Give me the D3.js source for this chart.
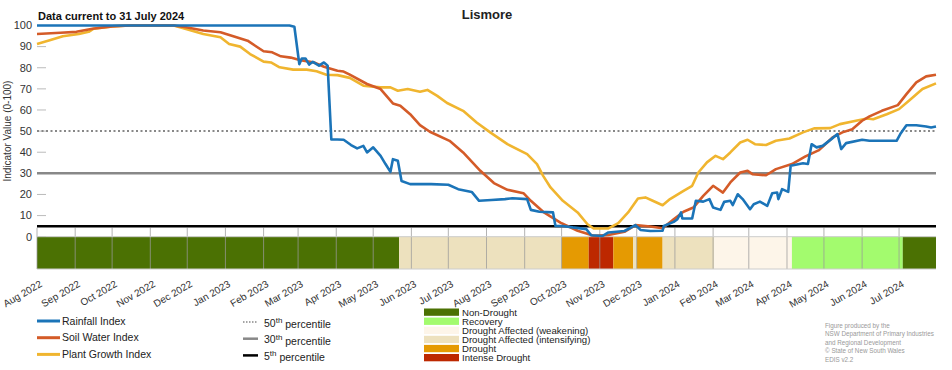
<!DOCTYPE html>
<html>
<head>
<meta charset="utf-8">
<script src="https://cdn.jsdelivr.net/npm/d3@7"></script>
<style>
  body { margin: 0; background: #fff; }
  svg { font-family: "Liberation Sans", Arial, sans-serif; }
</style>
</head>
<body>
<svg id="chart" width="952" height="370"></svg>
<script>
var rainfallIndex = [
  ["2022-08-01", 100], ["2023-02-22", 100], ["2023-02-26", 99.4], ["2023-03-02", 81.7],
  ["2023-03-04", 84.4], ["2023-03-07", 84.4], ["2023-03-10", 81.5], ["2023-03-13", 82.8],
  ["2023-03-18", 81], ["2023-03-22", 82.5], ["2023-03-25", 81], ["2023-03-28", 46],
  ["2023-04-02", 46], ["2023-04-07", 45.9], ["2023-04-13", 43.4], ["2023-04-18", 41.8],
  ["2023-04-23", 43], ["2023-04-26", 39.9], ["2023-05-01", 42.3], ["2023-05-07", 38.3],
  ["2023-05-11", 34.4], ["2023-05-15", 30.7], ["2023-05-17", 36.7], ["2023-05-21", 36],
  ["2023-05-24", 26.4], ["2023-05-31", 24.9], ["2023-06-17", 24.9], ["2023-07-01", 24.6],
  ["2023-07-09", 22.5], ["2023-07-20", 21.2], ["2023-07-26", 17], ["2023-08-05", 17.4],
  ["2023-08-16", 17.8], ["2023-08-22", 18.2], ["2023-09-03", 17.8], ["2023-09-06", 12.7],
  ["2023-09-13", 11.8], ["2023-09-24", 11.5], ["2023-09-26", 5.1], ["2023-10-02", 5.1],
  ["2023-10-10", 4.4], ["2023-10-21", 3.6], ["2023-10-25", 0.7], ["2023-11-03", 0.3],
  ["2023-11-08", 2], ["2023-11-21", 2.7], ["2023-11-30", 5.5], ["2023-12-04", 3.2],
  ["2023-12-12", 2.7], ["2023-12-22", 2.8], ["2023-12-23", 5.1], ["2023-12-31", 7],
  ["2024-01-03", 8.3], ["2024-01-06", 11.5], ["2024-01-07", 8.6], ["2024-01-15", 8.6],
  ["2024-01-18", 17], ["2024-01-24", 16.6], ["2024-01-29", 17.8], ["2024-02-01", 13.8],
  ["2024-02-07", 12.7], ["2024-02-10", 16.5], ["2024-02-15", 17], ["2024-02-17", 15],
  ["2024-02-21", 20.1], ["2024-02-25", 17.8], ["2024-03-02", 13], ["2024-03-05", 15.4],
  ["2024-03-10", 16.6], ["2024-03-16", 14.6], ["2024-03-20", 20.6], ["2024-03-24", 20.9],
  ["2024-03-25", 17.8], ["2024-03-28", 22.5], ["2024-04-02", 21.2], ["2024-04-04", 33.6],
  ["2024-04-14", 34.8], ["2024-04-18", 34.4], ["2024-04-21", 43.8], ["2024-04-25", 42.3],
  ["2024-04-30", 43], ["2024-05-07", 46.2], ["2024-05-12", 48.6], ["2024-05-15", 41.5],
  ["2024-05-19", 44.3], ["2024-06-01", 45.9], ["2024-06-07", 45.4], ["2024-06-29", 45.4],
  ["2024-07-02", 48.6], ["2024-07-07", 52.8], ["2024-07-15", 52.8], ["2024-07-23", 52.2],
  ["2024-07-27", 51.7], ["2024-07-31", 52.2]
];

var soilWaterIndex = [
  ["2022-08-01", 96], ["2022-08-20", 96.6], ["2022-09-02", 97], ["2022-09-15", 98.5],
  ["2022-10-01", 99.6], ["2022-10-15", 100], ["2022-11-20", 100], ["2022-11-30", 99.2],
  ["2022-12-14", 97.6], ["2022-12-28", 96.8], ["2023-01-10", 94.4], ["2023-01-19", 92.8],
  ["2023-02-01", 87.8], ["2023-02-08", 87.3], ["2023-02-15", 85.4], ["2023-02-23", 84.8],
  ["2023-03-03", 83.6], ["2023-03-14", 82.5], ["2023-03-22", 80.5], ["2023-04-02", 78.6],
  ["2023-04-07", 78.2], ["2023-04-12", 76.7], ["2023-04-26", 72.3], ["2023-05-07", 69.9],
  ["2023-05-17", 63.1], ["2023-05-23", 62], ["2023-05-31", 58], ["2023-06-08", 52.8],
  ["2023-06-16", 49.7], ["2023-07-02", 45.4], ["2023-07-13", 39.9], ["2023-07-27", 31.2],
  ["2023-08-07", 25.4], ["2023-08-18", 22.2], ["2023-08-31", 20.6], ["2023-09-06", 17],
  ["2023-09-16", 11.8], ["2023-09-30", 6.7], ["2023-10-14", 2.8], ["2023-10-27", 0.4],
  ["2023-11-08", 0.8], ["2023-11-21", 2.3], ["2023-11-30", 5.5], ["2023-12-12", 4.8],
  ["2023-12-22", 4], ["2023-12-31", 8.3], ["2024-01-08", 11.8], ["2024-01-16", 13.8],
  ["2024-01-24", 19.3], ["2024-02-01", 24.1], ["2024-02-09", 20.9], ["2024-02-15", 25.7],
  ["2024-02-23", 30.4], ["2024-02-29", 31.2], ["2024-03-04", 29.6], ["2024-03-15", 29.1],
  ["2024-03-23", 32], ["2024-04-05", 34.4], ["2024-04-16", 38], ["2024-04-27", 41],
  ["2024-05-08", 47], ["2024-05-16", 49.4], ["2024-05-24", 50.9], ["2024-06-01", 54.9],
  ["2024-06-07", 57], ["2024-06-17", 59.6], ["2024-06-30", 62.3], ["2024-07-07", 67.5],
  ["2024-07-15", 73.1], ["2024-07-23", 75.9], ["2024-07-31", 76.7]
];

var plantGrowthIndex = [
  ["2022-08-01", 91.2], ["2022-08-12", 93.1], ["2022-08-22", 94.9], ["2022-09-04", 96],
  ["2022-09-12", 97], ["2022-09-16", 98.5], ["2022-10-01", 99.6], ["2022-10-15", 100],
  ["2022-11-20", 100], ["2022-11-30", 98.3], ["2022-12-14", 96], ["2022-12-28", 94.4],
  ["2023-01-04", 91.2], ["2023-01-13", 90], ["2023-01-21", 86.5], ["2023-02-01", 82.9],
  ["2023-02-07", 82.5], ["2023-02-14", 80.2], ["2023-02-25", 79.1], ["2023-03-08", 79.1],
  ["2023-03-16", 78.3], ["2023-03-24", 76.7], ["2023-04-02", 76.5], ["2023-04-12", 75.2],
  ["2023-04-23", 71.5], ["2023-05-07", 70.7], ["2023-05-15", 70.7], ["2023-05-21", 69.1],
  ["2023-05-29", 69.9], ["2023-06-08", 68.6], ["2023-06-14", 69.5], ["2023-06-22", 66.7],
  ["2023-06-30", 63.3], ["2023-07-13", 59.6], ["2023-07-24", 54.1], ["2023-08-04", 49.4],
  ["2023-08-18", 43.8], ["2023-09-03", 39.1], ["2023-09-11", 34.4], ["2023-09-16", 28.8],
  ["2023-09-22", 23.3], ["2023-10-02", 17], ["2023-10-14", 11.5], ["2023-10-22", 5.9],
  ["2023-10-27", 3.9], ["2023-11-08", 3.9], ["2023-11-16", 6.4], ["2023-11-24", 11.5],
  ["2023-12-02", 18.1], ["2023-12-08", 18.6], ["2023-12-14", 17], ["2023-12-22", 14.9],
  ["2023-12-28", 17.8], ["2024-01-08", 21.7], ["2024-01-15", 24.1], ["2024-01-20", 30.4],
  ["2024-01-27", 35.2], ["2024-02-03", 38.3], ["2024-02-09", 36.7], ["2024-02-15", 39.9],
  ["2024-02-23", 44.6], ["2024-02-29", 45.9], ["2024-03-06", 43.8], ["2024-03-15", 43.4],
  ["2024-03-23", 45.4], ["2024-04-03", 46.5], ["2024-04-14", 49.4], ["2024-04-23", 51.3],
  ["2024-05-06", 51.4], ["2024-05-14", 53.3], ["2024-05-27", 54.9], ["2024-06-05", 56],
  ["2024-06-10", 55.6], ["2024-06-21", 58], ["2024-07-01", 60.4], ["2024-07-09", 64.4],
  ["2024-07-20", 69.9], ["2024-07-31", 72.6]
];

// drought category band: each state runs from its start to the next start
var droughtStarts = ["2022-08-01", "2023-05-22", "2023-10-01", "2023-10-23", "2023-11-12",
  "2023-11-28", "2023-12-01", "2023-12-22", "2024-02-02", "2024-04-05", "2024-07-04"];
var droughtStates = ["Non-Drought", "Drought Affected (intensifying)", "Drought", "Intense Drought", "Drought",
  "Drought Affected (intensifying)", "Drought", "Drought Affected (intensifying)",
  "Drought Affected (weakening)", "Recovery", "Non-Drought"];
var droughtEnd = "2024-07-31";

var categories = ["Non-Drought", "Recovery", "Drought Affected (weakening)",
  "Drought Affected (intensifying)", "Drought", "Intense Drought"];
var percentiles = [50, 30, 5];
var yTicks = [0, 10, 20, 30, 40, 50, 60, 70, 80, 90, 100];

var COLORS = {
  "Non-Drought": "#4b7103",
  "Recovery": "#a3fb6e",
  "Drought Affected (weakening)": "#fdf5e9",
  "Drought Affected (intensifying)": "#ede1be",
  "Drought": "#e59a02",
  "Intense Drought": "#bd2800"
};

var parse = d3.timeParse("%Y-%m-%d");
var svg = d3.select("#chart");

var x = d3.scaleTime()
    .domain([parse("2022-08-01"), parse(droughtEnd)])
    .range([37, 936]);
var y = d3.scaleLinear().domain([0, 100]).range([236.7, 25.5]);
var BAND_LOW = -15.3;

svg.append("text")
    .attr("x", 487).attr("y", 19)
    .attr("text-anchor", "middle")
    .style("font-size", "13px").style("font-weight", "bold").style("fill", "#222")
    .text("Lismore");

svg.append("text")
    .attr("x", 38).attr("y", 20)
    .style("font-size", "11px").style("font-weight", "bold").style("fill", "#111")
    .text("Data current to 31 July 2024");

svg.append("text")
    .attr("transform", "translate(11," + y(50) + ") rotate(-90)")
    .attr("text-anchor", "middle")
    .style("font-size", "10px").style("fill", "#333")
    .text("Indicator Value (0-100)");

// y ticks
var yAxis = svg.append("g");
yAxis.selectAll("line").data(yTicks.concat([BAND_LOW / 2])).enter()
    .append("line")
    .attr("x1", x.range()[0]).attr("x2", x.range()[0] + 9)
    .attr("y1", function(d) { return y(d); })
    .attr("y2", function(d) { return y(d); })
    .style("stroke", "#bbb").style("stroke-width", 1);
yAxis.selectAll("text").data(yTicks).enter()
    .append("text")
    .attr("x", 32)
    .attr("y", function(d) { return y(d); })
    .attr("dy", "0.35em")
    .attr("text-anchor", "end")
    .style("font-size", "11px").style("fill", "#333")
    .text(function(d) { return d; });

// drought band
var bands = droughtStarts.map(function(s, i) {
  return { start: parse(s), end: parse(i + 1 < droughtStarts.length ? droughtStarts[i + 1] : droughtEnd), state: droughtStates[i] };
});
svg.append("g").selectAll("rect").data(bands).enter()
    .append("rect")
    .attr("x", function(d) { return x(d.start); })
    .attr("width", function(d) { return x(d.end) - x(d.start); })
    .attr("y", y(0))
    .attr("height", y(BAND_LOW) - y(0))
    .style("fill", function(d) { return COLORS[d.state]; });

var months = d3.timeMonth.range(parse("2022-08-01"), parse("2024-08-01"));

svg.append("g").selectAll("line").data(months).enter()
    .append("line")
    .attr("x1", function(d) { return x(d); })
    .attr("x2", function(d) { return x(d); })
    .attr("y1", y(4.2)).attr("y2", y(BAND_LOW))
    .style("stroke", "#999").style("stroke-opacity", 0.75).style("stroke-width", 1);

svg.append("line")
    .attr("x1", x.range()[0]).attr("x2", x.range()[1])
    .attr("y1", y(0)).attr("y2", y(0))
    .style("stroke", "#ccc").style("stroke-width", 1);
svg.append("line")
    .attr("x1", x.range()[0]).attr("x2", x.range()[1])
    .attr("y1", y(BAND_LOW)).attr("y2", y(BAND_LOW))
    .style("stroke", "#ccc").style("stroke-width", 1);

svg.append("g").selectAll("text").data(months).enter()
    .append("text")
    .attr("transform", function(d) { return "translate(" + (x(d) + 4) + "," + (y(BAND_LOW) + 14) + ") rotate(-30)"; })
    .attr("text-anchor", "end")
    .attr("dy", "0.35em")
    .style("font-size", "10px").style("fill", "#333")
    .text(d3.timeFormat("%b %Y"));

// percentile lines
var pctStyle = {
  50: { color: "#888", width: 2, dash: "2,2.5" },
  30: { color: "#888", width: 2.5, dash: null },
  5: { color: "#000", width: 2.5, dash: null }
};
svg.append("g").selectAll("line").data(percentiles).enter()
    .append("line")
    .attr("x1", x.range()[0]).attr("x2", x.range()[1])
    .attr("y1", function(d) { return y(d); })
    .attr("y2", function(d) { return y(d); })
    .style("stroke", function(d) { return pctStyle[d].color; })
    .style("stroke-width", function(d) { return pctStyle[d].width; })
    .style("stroke-dasharray", function(d) { return pctStyle[d].dash; });

// index lines
var series = [
  { name: "Plant Growth Index", data: plantGrowthIndex, color: "#f0b52f" },
  { name: "Soil Water Index", data: soilWaterIndex, color: "#d45b28" },
  { name: "Rainfall Index", data: rainfallIndex, color: "#1b74b8" }
];
var line = d3.line()
    .x(function(d) { return x(parse(d[0])); })
    .y(function(d) { return y(d[1]); });

svg.append("g").selectAll("path").data(series).enter()
    .append("path")
    .attr("d", function(d) { return line(d.data); })
    .style("fill", "none")
    .style("stroke", function(d) { return d.color; })
    .style("stroke-width", 2.6)
    .style("stroke-linejoin", "round");

// legend: indices
var legendSeries = series.slice().reverse();
var lg = svg.append("g");
lg.selectAll("line").data(legendSeries).enter()
    .append("line")
    .attr("x1", 37).attr("x2", 60)
    .attr("y1", function(d, i) { return 321 + i * 16.7; })
    .attr("y2", function(d, i) { return 321 + i * 16.7; })
    .style("stroke", function(d) { return d.color; })
    .style("stroke-width", 3);
lg.selectAll("text").data(legendSeries).enter()
    .append("text")
    .attr("x", 62)
    .attr("y", function(d, i) { return 321 + i * 16.7; })
    .attr("dy", "0.35em")
    .style("font-size", "10.5px").style("fill", "#222")
    .text(function(d) { return d.name; });

// legend: percentiles
var lp = svg.append("g");
lp.selectAll("line").data(percentiles).enter()
    .append("line")
    .attr("x1", 243).attr("x2", 258)
    .attr("y1", function(d, i) { return 322 + i * 16.7; })
    .attr("y2", function(d, i) { return 322 + i * 16.7; })
    .style("stroke", function(d) { return pctStyle[d].color; })
    .style("stroke-width", function(d) { return d == 50 ? 1.5 : 2.5; })
    .style("stroke-dasharray", function(d) { return d == 50 ? "1.5,1.5" : null; });
var pt = lp.selectAll("text").data(percentiles).enter()
    .append("text")
    .attr("x", 264)
    .attr("y", function(d, i) { return 323 + i * 16.7; })
    .attr("dy", "0.35em")
    .style("font-size", "10.5px").style("fill", "#222");
pt.append("tspan").text(function(d) { return d; });
pt.append("tspan").attr("dy", "-0.45em").style("font-size", "8px").text("th");
pt.append("tspan").attr("dy", "0.45em").text(" percentile");

// legend: drought categories
var lc = svg.append("g");
lc.selectAll("rect").data(categories).enter()
    .append("rect")
    .attr("x", 424).attr("width", 35)
    .attr("y", function(d, i) { return 308.5 + i * 9.1; })
    .attr("height", 7.3)
    .style("fill", function(d) { return COLORS[d]; });
lc.selectAll("text").data(categories).enter()
    .append("text")
    .attr("x", 462)
    .attr("y", function(d, i) { return 312.2 + i * 9.1; })
    .attr("dy", "0.35em")
    .style("font-size", "9.6px").style("fill", "#222")
    .text(function(d) { return d; });

// credits
var credits = ["Figure produced by the", "NSW Department of Primary Industries",
  "and Regional Development", "\u00a9 State of New South Wales", "EDIS v2.2"];
svg.append("g").selectAll("text").data(credits).enter()
    .append("text")
    .attr("x", 825)
    .attr("y", function(d, i) { return 328 + i * 8.4; })
    .style("font-size", "6.3px").style("fill", "#999")
    .text(function(d) { return d; });
</script>
</body>
</html>
